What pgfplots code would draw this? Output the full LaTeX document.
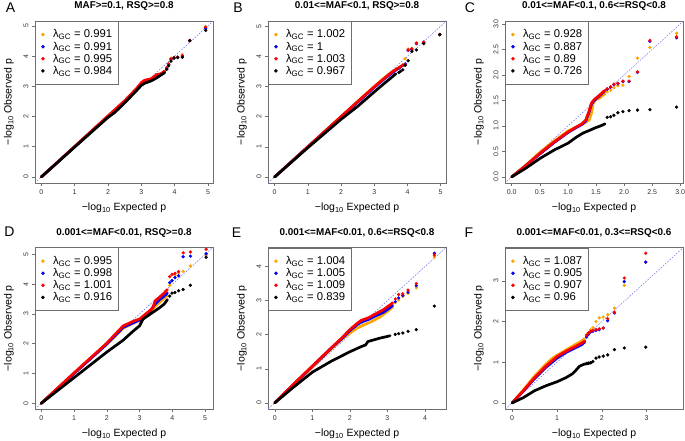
\documentclass[border=0pt]{standalone}
\usepackage{fontspec}
\setmainfont{Liberation Sans}
\usepackage{pgfplots}
\pgfplotsset{compat=1.18}
\usepackage{pgfplotstable}

\definecolor{rorange}{RGB}{255,165,0}
\definecolor{diagc}{RGB}{110,110,235}
\definecolor{frame}{RGB}{110,110,110}

\pgfplotsset{
 qq/.style={
  scale only axis, width=178pt, height=162pt, anchor=south west,
  axis line style={frame, line width=0.6pt},
  tick style={frame, line width=0.5pt},
  tick align=outside, major tick length=3pt,
  xtick pos=left, ytick pos=left,
  ticklabel style={font=\fontsize{7}{8}\selectfont, text=black!80},
  /pgf/number format/assume math mode=true,
  yticklabel style={rotate=90, anchor=south},
  xlabel={−log\textsubscript{10} Expected p},
  ylabel={−log\textsubscript{10} Observed p},
  label style={font=\fontsize{10.5}{12}\selectfont},
  xlabel style={at={(axis description cs:0.5,-0.154)}, anchor=center},
  ylabel style={at={(axis description cs:-0.146,0.5)}, anchor=center},
  every axis title/.style={font=\bfseries\fontsize{9.9}{11}\selectfont, at={(axis description cs:0.5,1)}, anchor=center, yshift=15pt},
  legend style={at={(0,1)}, anchor=north west, draw=frame, line width=0.6pt, fill=white,
     font=\fontsize{11.3}{12}\selectfont, inner xsep=6.2pt, inner ysep=8.5pt, row sep=2.4pt, column sep=8.6pt,
     nodes={inner sep=0pt}},
  legend cell align=left,
  legend image code/.code={\draw[mark repeat=2,mark phase=2,#1] plot coordinates {(0pt,0pt)(2pt,0pt)(4pt,0pt)};},
 },
 dense/.style={line width=2.7pt, line cap=round, line join=round, forget plot},
 pts/.style={only marks, mark=*, mark size=1.45pt, mark options={draw=none}},
 diag/.style={diagc, line width=0.5pt, dash pattern=on 1.6pt off 1.4pt, forget plot},
}

% tail points: x = expected, o/b/r/k = observed for orange, blue, red, black
\pgfplotstableread{
x o b r k
4.93 4.96 4.92 4.96 4.85
4.45 4.51 4.51 4.51 4.51
4.23 4.05 4.00 4.00 3.96
4.09 3.97 3.96 3.96 3.95
3.98 3.95 3.94 3.95 3.93
3.89 3.93 3.90 3.90 3.83
3.82 3.76 3.73 3.72 3.68
3.76 3.62 3.60 3.60 3.56
}\tailA
\pgfplotstableread{
x o b r k
4.97 4.72 4.72 4.72 4.72
4.49 4.47 4.46 4.47 4.42
4.27 4.43 4.42 4.44 4.21
4.13 4.26 4.22 4.25 4.16
4.02 4.24 4.20 4.21 3.85
3.93 3.92 3.75 3.72 3.70
3.86 3.72 3.70 3.70 3.55
3.79 3.66 3.64 3.66 3.50
3.74 3.62 3.60 3.62 3.46
}\tailB
\pgfplotstableread{
x o b r k
2.935 2.82 2.73 2.75 1.37
2.46 2.54 2.66 2.68 1.32
2.24 2.33 2.05 2.06 1.31
2.09 1.97 1.87 1.88 1.30
1.98 1.80 1.87 1.88 1.28
1.89 1.79 1.83 1.84 1.26
1.82 1.75 1.81 1.82 1.21
1.76 1.70 1.76 1.77 1.18
1.70 1.67 1.72 1.73 1.17
}\tailC
\pgfplotstableread{
x o b r k
5.03 4.98 5.02 5.17 4.90
4.55 4.61 4.94 5.08 3.96
4.33 4.43 4.92 5.05 3.82
4.19 4.38 4.28 4.42 3.78
4.08 4.30 4.22 4.36 3.72
3.99 4.12 4.12 4.33 3.70
3.92 3.96 4.05 4.25 3.60
}\tailD
\pgfplotstableread{
x o b r k
4.25 4.28 4.39 4.34 2.84
3.77 3.38 3.44 3.50 2.15
3.55 3.21 3.25 3.31 2.10
3.41 3.12 3.15 3.20 2.05
3.30 3.02 3.08 3.18 2.03
3.21 2.94 2.97 3.05 2.01
}\tailE
\pgfplotstableread{
x o b r k
2.98 3.46 3.46 3.68 1.37
2.50 2.89 2.98 3.07 1.35
2.28 2.33 2.21 2.23 1.31
2.13 2.17 2.02 2.07 1.18
2.03 2.11 1.84 1.84 1.15
1.94 2.09 1.80 1.82 1.13
1.87 2.00 1.78 1.80 1.10
1.80 1.85 1.76 1.78 1.02
1.75 1.80 1.74 1.76 0.99
1.70 1.72 1.68 1.72 0.98
1.66 1.68 1.62 1.66 0.97
}\tailF

\begin{document}
\begin{tikzpicture}
\path[use as bounding box] (0,0) rectangle (685pt,440pt);

% ---------------- A
\begin{axis}[qq, at={(35pt,257pt)}, xmin=-0.19, xmax=5.15, ymin=-0.2, ymax=5.16,
  xtick={0,...,5}, ytick={0,...,5}, title={MAF>=0.1, RSQ>=0.8}]
\addplot[diag] coordinates {(-1,-1)(7,7)};
\addplot[dense, rorange] coordinates {(0,0)(1,1)(2,2)(2.5,2.5)(2.85,2.9)(3.0,3.1)(3.1,3.18)(3.3,3.24)(3.45,3.32)(3.6,3.42)(3.7,3.5)};
\addplot[dense, blue] coordinates {(0,0)(1,1)(2,2)(2.5,2.5)(2.85,2.88)(3.0,3.07)(3.1,3.16)(3.3,3.22)(3.45,3.3)(3.6,3.4)(3.7,3.48)};
\addplot[dense, red] coordinates {(0,0)(1,1.01)(2,2.02)(2.5,2.52)(2.85,2.92)(3.0,3.12)(3.1,3.2)(3.3,3.25)(3.45,3.38)(3.6,3.42)(3.7,3.5)};
\addplot[dense, black] coordinates {(0,0)(1,0.99)(2,1.97)(2.2,2.13)(2.5,2.45)(2.85,2.85)(3.0,3.03)(3.1,3.1)(3.3,3.18)(3.45,3.27)(3.6,3.38)(3.7,3.45)};
\addplot[pts, rorange] table[x=x,y=o]{\tailA}; \addlegendentry{λ\textsubscript{GC} = 0.991}
\addplot[pts, blue] table[x=x,y=b]{\tailA}; \addlegendentry{λ\textsubscript{GC} = 0.991}
\addplot[pts, red] table[x=x,y=r]{\tailA}; \addlegendentry{λ\textsubscript{GC} = 0.995}
\addplot[pts, black] table[x=x,y=k]{\tailA}; \addlegendentry{λ\textsubscript{GC} = 0.984}
\end{axis}

% ---------------- B
\begin{axis}[qq, at={(268pt,257pt)}, xmin=-0.2, xmax=5.16, ymin=-0.2, ymax=5.17,
  xtick={0,...,5}, ytick={0,...,5}, title={0.01<=MAF<0.1, RSQ>=0.8}]
\addplot[diag] coordinates {(-1,-1)(7,7)};
\addplot[dense, rorange] coordinates {(0,0)(1,1)(2,2)(2.5,2.5)(3.0,3.0)(3.3,3.28)(3.5,3.45)(3.7,3.6)};
\addplot[dense, blue] coordinates {(0,0)(1,1)(2,1.99)(2.5,2.48)(3.0,2.97)(3.3,3.25)(3.5,3.42)(3.7,3.58)};
\addplot[dense, red] coordinates {(0,0)(1,1)(2,2.0)(2.5,2.5)(3.0,2.99)(3.3,3.27)(3.5,3.45)(3.7,3.6)};
\addplot[dense, black] coordinates {(0,0)(1,0.97)(2,1.91)(2.5,2.34)(3.0,2.82)(3.3,3.1)(3.5,3.28)(3.65,3.42)};
\addplot[pts, rorange] table[x=x,y=o]{\tailB}; \addlegendentry{λ\textsubscript{GC} = 1.002}
\addplot[pts, blue] table[x=x,y=b]{\tailB}; \addlegendentry{λ\textsubscript{GC} = 1}
\addplot[pts, red] table[x=x,y=r]{\tailB}; \addlegendentry{λ\textsubscript{GC} = 1.003}
\addplot[pts, black] table[x=x,y=k]{\tailB}; \addlegendentry{λ\textsubscript{GC} = 0.967}
\end{axis}

% ---------------- C
\begin{axis}[qq, at={(505pt,257pt)}, xmin=-0.12, xmax=3.05, ymin=-0.12, ymax=3.06,
  xtick={0,0.5,...,3}, ytick={0,0.5,...,3},
  /pgf/number format/.cd, fixed, fixed zerofill, precision=1, /pgfplots/.cd,
  title={0.01<=MAF<0.1, 0.6<=RSQ<0.8}]
\addplot[diag] coordinates {(-1,-1)(7,7)};
\addplot[dense, rorange] coordinates {(0,0)(0.25,0.23)(0.5,0.48)(0.75,0.7)(1.0,0.9)(1.2,1.0)(1.3,1.06)(1.38,1.12)(1.42,1.25)(1.45,1.45)(1.5,1.52)(1.57,1.55)(1.62,1.6)(1.66,1.63)};
\addplot[dense, blue] coordinates {(0,0)(0.25,0.22)(0.5,0.45)(0.75,0.67)(1.0,0.87)(1.15,0.97)(1.25,1.03)(1.32,1.1)(1.38,1.28)(1.42,1.43)(1.47,1.5)(1.54,1.57)(1.61,1.64)(1.66,1.69)};
\addplot[dense, red] coordinates {(0,0)(0.25,0.22)(0.5,0.46)(0.75,0.68)(1.0,0.88)(1.15,0.98)(1.25,1.04)(1.32,1.12)(1.38,1.3)(1.42,1.45)(1.47,1.52)(1.54,1.58)(1.61,1.65)(1.66,1.7)};
\addplot[dense, black] coordinates {(0,0)(0.25,0.17)(0.5,0.36)(0.76,0.53)(1.0,0.66)(1.15,0.78)(1.27,0.86)(1.4,0.92)(1.48,0.96)(1.58,1.0)(1.66,1.04)};
\addplot[pts, rorange] table[x=x,y=o]{\tailC}; \addlegendentry{λ\textsubscript{GC} = 0.928}
\addplot[pts, blue] table[x=x,y=b]{\tailC}; \addlegendentry{λ\textsubscript{GC} = 0.887}
\addplot[pts, red] table[x=x,y=r]{\tailC}; \addlegendentry{λ\textsubscript{GC} = 0.89}
\addplot[pts, black] table[x=x,y=k]{\tailC}; \addlegendentry{λ\textsubscript{GC} = 0.726}
\end{axis}

% ---------------- D
\begin{axis}[qq, at={(35pt,31pt)}, height=161.5pt, xmin=-0.19, xmax=5.24, ymin=-0.19, ymax=5.23,
  xtick={0,...,5}, ytick={0,...,5}, title style={yshift=-0.6pt}, title={0.001<=MAF<0.01, RSQ>=0.8}]
\addplot[diag] coordinates {(-1,-1)(7,7)};
\addplot[dense, rorange] coordinates {(0,0)(1,1.0)(2,1.98)(2.5,2.52)(2.8,2.68)(3.0,2.78)(3.3,3.0)(3.45,3.22)(3.6,3.38)(3.75,3.52)(3.85,3.62)};
\addplot[dense, blue] coordinates {(0,0)(1,1.0)(2,1.99)(2.5,2.55)(2.8,2.7)(3.0,2.8)(3.3,3.05)(3.45,3.3)(3.6,3.47)(3.75,3.6)(3.85,3.7)};
\addplot[dense, red] coordinates {(0,0)(1,1.02)(2,2.02)(2.5,2.6)(2.8,2.75)(3.0,2.83)(3.3,3.1)(3.4,3.2)(3.48,3.45)(3.6,3.55)(3.75,3.7)(3.85,3.82)};
\addplot[dense, black] coordinates {(0,0)(1,0.86)(2,1.72)(2.5,2.12)(2.8,2.42)(3.0,2.6)(3.1,2.82)(3.2,2.9)(3.4,3.05)(3.6,3.2)(3.75,3.33)(3.85,3.48)};
\addplot[pts, rorange] table[x=x,y=o]{\tailD}; \addlegendentry{λ\textsubscript{GC} = 0.995}
\addplot[pts, blue] table[x=x,y=b]{\tailD}; \addlegendentry{λ\textsubscript{GC} = 0.998}
\addplot[pts, red] table[x=x,y=r]{\tailD}; \addlegendentry{λ\textsubscript{GC} = 1.001}
\addplot[pts, black] table[x=x,y=k]{\tailD}; \addlegendentry{λ\textsubscript{GC} = 0.916}
\end{axis}

% ---------------- E
\begin{axis}[qq, at={(268pt,31pt)}, height=161.5pt, xmin=-0.18, xmax=4.56, ymin=-0.18, ymax=4.56,
  xtick={0,...,4}, ytick={0,...,4}, title style={yshift=-0.6pt}, title={0.001<=MAF<0.01, 0.6<=RSQ<0.8}]
\addplot[diag] coordinates {(-1,-1)(7,7)};
\addplot[dense, rorange] coordinates {(0,0)(0.5,0.53)(1.0,1.05)(1.5,1.58)(1.8,1.88)(2.0,2.05)(2.2,2.2)(2.4,2.3)(2.6,2.4)(2.8,2.52)(3.0,2.68)(3.14,2.82)};
\addplot[dense, blue] coordinates {(0,0)(0.5,0.54)(1.0,1.07)(1.5,1.6)(1.8,1.9)(2.0,2.12)(2.2,2.3)(2.3,2.37)(2.5,2.45)(2.7,2.56)(2.9,2.66)(3.1,2.82)(3.14,2.86)};
\addplot[dense, red] coordinates {(0,0)(0.5,0.55)(1.0,1.08)(1.5,1.61)(1.8,1.92)(2.0,2.15)(2.2,2.34)(2.3,2.42)(2.5,2.5)(2.7,2.62)(2.9,2.74)(3.1,2.9)(3.14,2.94)};
\addplot[dense, black] coordinates {(0,0)(0.5,0.46)(1.0,0.9)(1.5,1.22)(2.0,1.5)(2.3,1.65)(2.42,1.7)(2.48,1.8)(2.8,1.9)(3.0,1.95)(3.07,1.97)};
\addplot[pts, rorange] table[x=x,y=o]{\tailE}; \addlegendentry{λ\textsubscript{GC} = 1.004}
\addplot[pts, blue] table[x=x,y=b]{\tailE}; \addlegendentry{λ\textsubscript{GC} = 1.005}
\addplot[pts, red] table[x=x,y=r]{\tailE}; \addlegendentry{λ\textsubscript{GC} = 1.009}
\addplot[pts, black] table[x=x,y=k]{\tailE}; \addlegendentry{λ\textsubscript{GC} = 0.839}
\end{axis}

% ---------------- F
\begin{axis}[qq, at={(505pt,31pt)}, height=161.5pt, xmin=-0.16, xmax=3.81, ymin=-0.15, ymax=3.82,
  xtick={0,...,3}, ytick={0,...,3}, title style={yshift=-0.6pt}, title={0.001<=MAF<0.01, 0.3<=RSQ<0.6}]
\addplot[diag] coordinates {(-1,-1)(7,7)};
\addplot[dense, rorange] coordinates {(0,0)(0.25,0.32)(0.5,0.66)(0.75,0.95)(0.9,1.1)(1.0,1.17)(1.2,1.3)(1.4,1.43)(1.55,1.52)(1.62,1.58)};
\addplot[dense, blue] coordinates {(0,0)(0.25,0.29)(0.5,0.6)(0.75,0.87)(1.0,1.1)(1.2,1.24)(1.4,1.35)(1.55,1.43)(1.62,1.5)};
\addplot[dense, red] coordinates {(0,0)(0.25,0.3)(0.5,0.62)(0.75,0.9)(1.0,1.14)(1.2,1.27)(1.4,1.38)(1.55,1.47)(1.62,1.52)};
\addplot[dense, black] coordinates {(0,0)(0.25,0.13)(0.5,0.3)(0.75,0.42)(1.0,0.52)(1.2,0.62)(1.35,0.72)(1.42,0.8)(1.5,0.9)(1.6,0.95)(1.7,0.97)(1.77,0.99)};
\addplot[pts, rorange] table[x=x,y=o]{\tailF}; \addlegendentry{λ\textsubscript{GC} = 1.087}
\addplot[pts, blue] table[x=x,y=b]{\tailF}; \addlegendentry{λ\textsubscript{GC} = 0.905}
\addplot[pts, red] table[x=x,y=r]{\tailF}; \addlegendentry{λ\textsubscript{GC} = 0.907}
\addplot[pts, black] table[x=x,y=k]{\tailF}; \addlegendentry{λ\textsubscript{GC} = 0.96}
\end{axis}

% panel letters
\node[font=\fontsize{14}{14}\selectfont] at (10.5pt,432pt) {A};
\node[font=\fontsize{14}{14}\selectfont] at (238pt,432pt) {B};
\node[font=\fontsize{14}{14}\selectfont] at (470pt,432pt) {C};
\node[font=\fontsize{14}{14}\selectfont] at (9.5pt,208pt) {D};
\node[font=\fontsize{14}{14}\selectfont] at (236.5pt,207pt) {E};
\node[font=\fontsize{14}{14}\selectfont] at (469pt,207pt) {F};
\end{tikzpicture}
\end{document}
